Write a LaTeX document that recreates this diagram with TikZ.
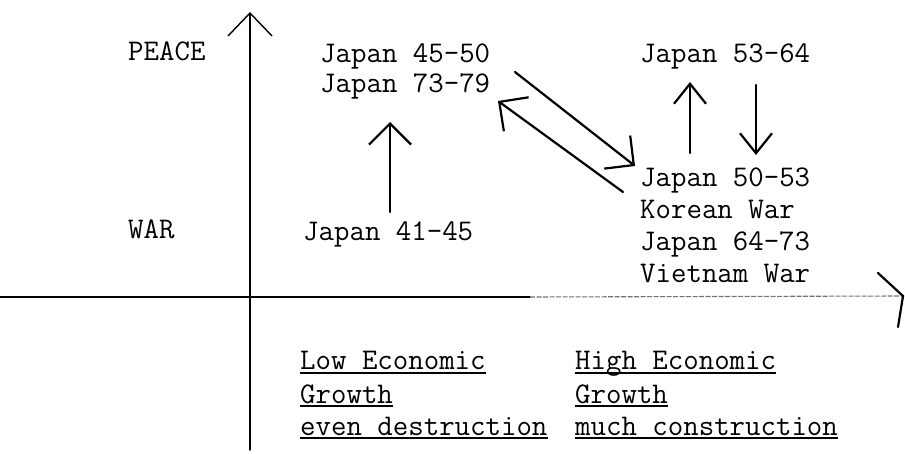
\documentclass[tikz,border=0pt]{standalone}
\usepackage{fontspec}
\newfontfamily\twfont{Latin Modern Mono}
\usetikzlibrary{arrows.meta}
\begin{document}
\begin{tikzpicture}[x=1pt,y=-1pt,
  tw/.style={font=\twfont\fontsize{30}{32}\selectfont, inner sep=0pt, anchor=base west},
  axisline/.style={line width=1.4pt, line cap=round},
  hand/.style={line width=2.2pt, line cap=round, -{Straight Barb[length=21pt,width=42pt]}},
  handsmall/.style={line width=2.2pt, line cap=round, -{Straight Barb[length=20pt,width=32pt]}},
  uline/.style={line width=1.3pt},
]
\fill[white] (0,0) rectangle (905,454);
\useasboundingbox (0,0) rectangle (905,454);

% axes
\coordinate (vbot) at (250,450);
\coordinate (vtop) at (250,12);
\coordinate (hl) at (0,297);
\coordinate (hmid) at (530,297);
\coordinate (hr) at (903,296);
\coordinate (harmU) at (878,273);
\coordinate (harmD) at (898,327);
\draw[axisline, -{Straight Barb[length=23pt,width=44pt]}] (vbot) -- (vtop);
\draw[axisline] (hl) -- (hmid);
\draw[line width=1.1pt, black!55, dash pattern=on 5pt off 1.5pt] (hmid) -- (hr);
\draw[line width=2.2pt, line cap=round] (harmU) -- (hr) -- (harmD);

% texts
\node[tw] (peace) at (128,61) {PEACE};
\node[tw] (war) at (128,239) {WAR};
\node[tw] (j4550) at (320,63) {Japan 45-50};
\node[tw] (j7379) at (320,93) {Japan 73-79};
\node[tw] (j4145) at (303,241) {Japan 41-45};
\node[tw] (j5364) at (640,63) {Japan 53-64};
\node[tw] (j5053) at (640,187) {Japan 50-53};
\node[tw] (korea) at (640,219) {Korean War};
\node[tw] (j6473) at (640,251) {Japan 64-73};
\node[tw] (viet) at (640,283) {Vietnam War};
\node[tw] (low1) at (300,370) {Low Economic};
\node[tw] (low2) at (300,403) {Growth};
\node[tw] (low3) at (300,435) {even destruction};
\node[tw] (high1) at (575,370) {High Economic};
\node[tw] (high2) at (575,403) {Growth};
\node[tw] (high3) at (575,435) {much construction};
\foreach \n in {low1,low2,low3,high1,high2,high3}
  \draw[uline] ([yshift=-3pt]\n.base west) -- ([yshift=-3pt]\n.base east);

% arrows
\coordinate (upLs) at (390,212);
\coordinate (upLe) at (390,122);
\draw[hand] (upLs) -- (upLe);

\coordinate (upRs) at (690,153);
\coordinate (upRe) at (690,82);
\draw[handsmall] (upRs) -- (upRe);

\coordinate (dnRs) at (756,85);
\coordinate (dnRe) at (756,155);
\draw[handsmall] (dnRs) -- (dnRe);

\coordinate (d1s) at (515,72);
\coordinate (d1e) at (635,166);
\draw[hand] (d1s) -- (d1e);

\coordinate (d2s) at (623,192);
\coordinate (d2e) at (498,101);
\draw[hand] (d2s) -- (d2e);
\end{tikzpicture}
\end{document}
